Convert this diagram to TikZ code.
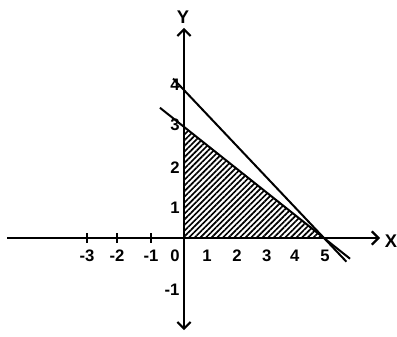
\documentclass[tikz,border=0pt]{standalone}
\usepackage{fontspec}
\setmainfont{Liberation Sans}
\usetikzlibrary{
    arrows.meta,
    patterns.meta
}
\tikzset{
    % --- Coordinate axis ---
    axis/.style = {
        line width=1.3pt
    },
    % --- Constraint line ---
    constraint/.style = {
        line width=1.2pt
    },
    % --- Small tick on the x axis ---
    tickmark/.style = {
        line width=1.1pt
    },
    % --- Hatched feasible region ---
    feasible/.style = {
        pattern={Lines[angle=45, distance=2.4pt, line width=1pt]}
    },
    % --- Number next to an axis ---
    num/.style = {
        font=\fontsize{10}{12}\selectfont\bfseries,
        inner sep=0pt
    },
    % --- Axis name (X, Y) ---
    axis name/.style = {
        font=\fontsize{11}{13}\selectfont\bfseries,
        inner sep=0pt
    }
}

\begin{document}
\begin{tikzpicture}[
    x=16.8pt, y=22.2pt,
    >={Straight Barb[length=4pt, width=8pt]}
]
\useasboundingbox (-6.571,-2.649) rectangle (7.607,6.432);

% ---------------------------------------------------------
% Key points
% ---------------------------------------------------------
\coordinate (O) at (0,0);
\coordinate (P5) at (5,0);
\coordinate (P3) at (0,3);
\coordinate (Xmin) at (-6.32,0);
\coordinate (Xmax) at (7.0,0);
\coordinate (Ymin) at (0,-2.49);
\coordinate (Ymax) at (0,5.68);

% ---------------------------------------------------------
% Feasible region (hatched)
% ---------------------------------------------------------
\fill[feasible] (O) -- (P5) -- (P3) -- cycle;

% ---------------------------------------------------------
% Axes
% ---------------------------------------------------------
\draw[axis, ->] (Xmin) -- (Xmax);
\draw[axis, <->] (Ymin) -- (Ymax);

\node[axis name] (nameX) at (7.39,-0.08) {X};
\node[axis name] (nameY) at (-0.04,5.97) {Y};

% ---------------------------------------------------------
% Constraint lines
% ---------------------------------------------------------
\coordinate (LowA) at (-0.86,3.52);
\coordinate (LowB) at (5.93,-0.56);
\draw[constraint] (LowA) -- (LowB);

\coordinate (UpA) at (-0.39,4.31);
\coordinate (UpB) at (5.8,-0.64);
\draw[constraint] (UpA) -- (UpB);

% ---------------------------------------------------------
% Ticks and numbers
% ---------------------------------------------------------
\foreach \x/\t [count=\i] in {-3.46/-3, -2.39/-2, -1.18/-1} {
    \draw[tickmark] (\x,0.135) -- (\x,-0.135);
    \node[num] (xneg\i) at (\x,-0.47) {\t};
}
\node[num] (xzero) at (-0.32,-0.47) {0};
\foreach \x/\t [count=\i] in {0.82/1, 1.89/2, 2.96/3, 3.96/4, 5.04/5} {
    \node[num] (xpos\i) at (\x,-0.47) {\t};
}
\foreach \y/\t [count=\i] in {0.81/1, 1.89/2, 3.05/3, 4.14/4} {
    \node[num] (ypos\i) at (-0.32,\y) {\t};
}
\node[num] (yneg1) at (-0.43,-1.41) {-1};

\end{tikzpicture}
\end{document}
